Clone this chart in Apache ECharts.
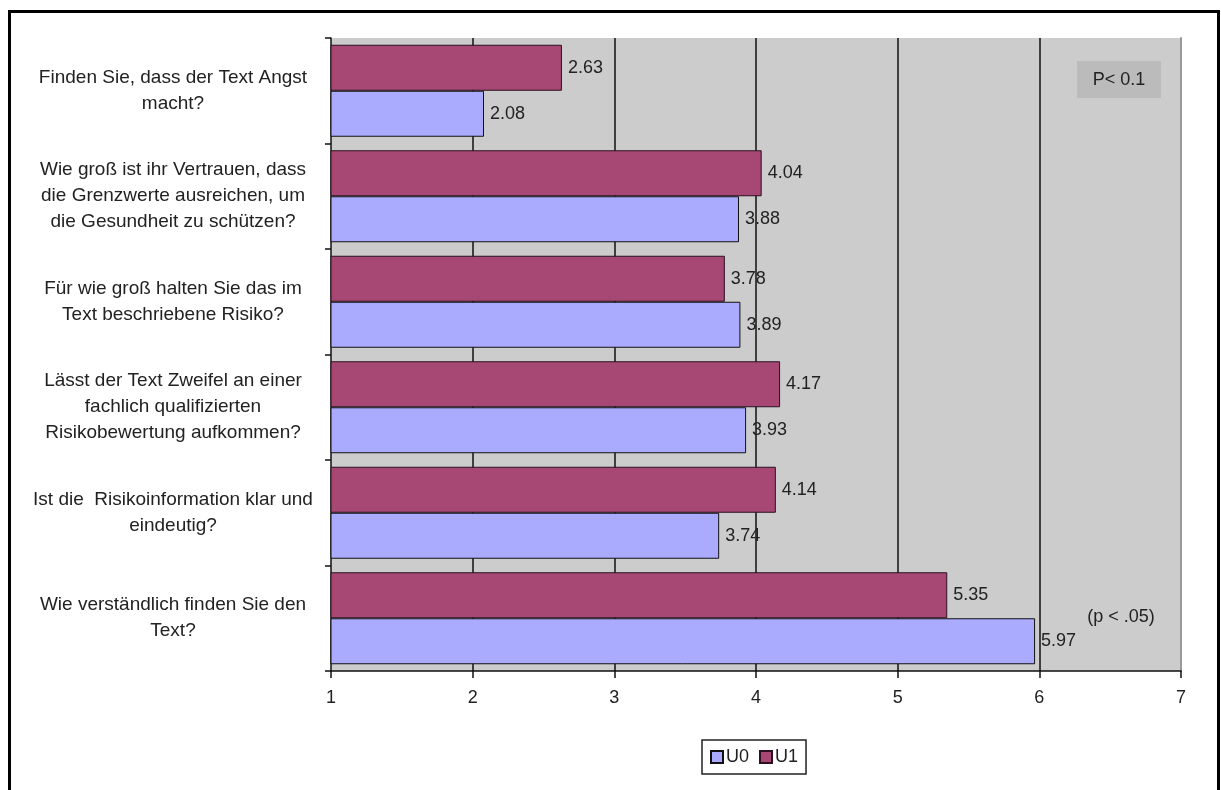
<!DOCTYPE html>
<html>
<head>
<meta charset="utf-8">
<script src="https://cdn.jsdelivr.net/npm/echarts@6/dist/echarts.min.js"></script>
<style>
  html, body { margin: 0; padding: 0; background: #fff; }
  #chart { width: 1221px; height: 790px; }
</style>
</head>
<body>
<div id="chart"></div>
<script>
const categories = [
  'Finden Sie, dass der Text Angst\nmacht?',
  'Wie groß ist ihr Vertrauen, dass\ndie Grenzwerte ausreichen, um\ndie Gesundheit zu schützen?',
  'Für wie groß halten Sie das im\nText beschriebene Risiko?',
  'Lässt der Text Zweifel an einer\nfachlich qualifizierten\nRisikobewertung aufkommen?',
  'Ist die  Risikoinformation klar und\neindeutig?',
  'Wie verständlich finden Sie den\nText?'
];
const seriesNames = ['U0', 'U1'];
const valuesU0 = [2.08, 3.88, 3.89, 3.93, 3.74, 5.97];
const valuesU1 = [2.63, 4.04, 3.78, 4.17, 4.14, 5.35];
const xTicks = [1, 2, 3, 4, 5, 6, 7];
const noteTop = 'P< 0.1';
const noteBottom = '(p < .05)';

const FONT = '"Liberation Sans", Arial, sans-serif';
const chart = echarts.init(document.getElementById('chart'), null, { renderer: 'canvas' });

const labelCfg = {
  show: true, position: 'right', distance: 6,
  fontFamily: FONT, fontSize: 18, color: '#222',
  formatter: p => p.value.toFixed(2)
};

chart.setOption({
  backgroundColor: '#ffffff',
  animation: false,
  grid: {
    left: 331, right: 40, top: 38, bottom: 119,
    show: true, backgroundColor: '#cccccc', borderWidth: 0
  },
  legend: {
    data: seriesNames,
    left: 702, top: 740,
    orient: 'horizontal',
    itemWidth: 12, itemHeight: 12, itemGap: 10,
    padding: [8, 8, 8, 8],
    borderColor: '#222', borderWidth: 1.5,
    textStyle: { fontFamily: FONT, fontSize: 18, color: '#222', padding: [0, 0, 0, -2] },
    icon: 'rect'
  },
  xAxis: {
    type: 'value',
    min: xTicks[0], max: xTicks[xTicks.length - 1], interval: 1,
    axisLine: { show: true, lineStyle: { color: '#111', width: 1.5 } },
    axisTick: { show: true, length: 7, lineStyle: { color: '#111', width: 1.5 } },
    axisLabel: { fontFamily: FONT, fontSize: 18, color: '#222', margin: 18 },
    splitLine: { show: true, showMinLine: false, showMaxLine: false, lineStyle: { color: '#111', width: 1.5 } }
  },
  yAxis: [{
    type: 'category',
    data: categories,
    inverse: true,
    axisLine: { show: true, onZero: false, lineStyle: { color: '#111', width: 1.5 } },
    axisTick: { show: true, length: 6, lineStyle: { color: '#111', width: 1.5 } },
    axisLabel: {
      fontFamily: FONT, fontSize: 19, color: '#222',
      align: 'center', margin: 158, lineHeight: 26
    }
  }, {
    type: 'category',
    data: categories,
    inverse: true,
    position: 'right',
    axisLine: { show: true, lineStyle: { color: '#999', width: 2 } },
    axisTick: { show: false },
    axisLabel: { show: false }
  }],
  series: [
    {
      name: 'U1', type: 'bar', data: valuesU1,
      barWidth: 46, barGap: '0%',
      itemStyle: { color: '#a64873', borderColor: '#2a1020', borderWidth: 1 },
      label: labelCfg
    },
    {
      name: 'U0', type: 'bar', data: valuesU0,
      barWidth: 46, barGap: '0%',
      itemStyle: { color: '#aaaaff', borderColor: '#111', borderWidth: 1 },
      label: labelCfg
    }
  ],
  graphic: [
    {
      type: 'rect',
      shape: { x: 9.5, y: 11.5, width: 1209, height: 900 },
      style: { fill: 'none', stroke: '#000', lineWidth: 3 },
      silent: true
    },
    {
      type: 'rect',
      shape: { x: 1077, y: 61, width: 84, height: 37 },
      style: { fill: '#bbbbbb' },
      z: 10
    },
    {
      type: 'text',
      x: 1119, y: 80,
      style: { text: noteTop, fontFamily: FONT, fontSize: 18, fill: '#222', align: 'center', verticalAlign: 'middle' },
      z: 11
    },
    {
      type: 'text',
      x: 1121, y: 617,
      style: { text: noteBottom, fontFamily: FONT, fontSize: 18, fill: '#222', align: 'center', verticalAlign: 'middle' },
      z: 11
    }
  ]
});
</script>
</body>
</html>
